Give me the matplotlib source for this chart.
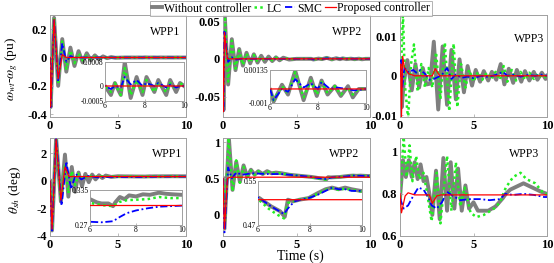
"""
Rotor speed deviation and shaft twist angle for three wind power plants,
compared across four control schemes. Six panels, four of them with a zoom inset.
"""
import matplotlib
matplotlib.use('Agg')
import matplotlib.pyplot as plt
from matplotlib.lines import Line2D

# ── Data ─────────────────────────────────────────────────────────────────────
SERIES_NAMES = ['Without controller', 'LC', 'SMC', 'Proposed controller']
WPP_NAMES = ['WPP1', 'WPP2', 'WPP3']

# WPP1, speed deviation (pu)
A_T = [0, 0.05, 0.3, 0.6, 0.9, 1.2, 1.5, 1.8, 2.1, 2.4, 2.7, 3.0, 3.3, 3.6, 3.9, 4.2, 4.5, 4.8,
       5.5, 6.0, 6.3, 6.5, 6.8, 7.0, 7.3, 7.6, 7.9, 8.1, 8.5, 8.7, 9.1, 9.3, 9.6, 9.8, 10.0]
A_NC = [0, -0.35, 0.28, -0.2, 0.13, -0.1, 0.07, -0.06, 0.045, -0.035, 0.03, -0.02, 0.015, -0.012,
        0.008, -0.005, 0.003, -0.002, 0, 0, -0.0003, 0.0001, -0.0003, 0.0008, -0.0004, 0.0003,
        -0.0003, 0.0003, -0.0002, 0.0002, -0.0003, 0.0002, -0.0002, 0.0001, 0]
A_LC = [0, -0.34, 0.27, -0.19, 0.12, -0.08, 0.05, -0.04, 0.03, -0.02, 0.015, -0.01, 0.006, -0.004,
        0.002, -0.001, 0.0005, 0, 0, 0, -0.0002, 0.0001, -0.0003, 0.0006, -0.0003, 0.0002,
        -0.0002, 0.0002, -0.0002, 0.0001, -0.0002, 0.0001, -0.0001, 0.0001, 0]
A_SMC = [0, -0.35, 0.27, -0.17, 0.1, -0.03, 0.01, 0, 0, 0, 0, 0, 0, 0, 0, 0, 0, 0, 0, 0,
         -0.0001, 0, -0.00005, 0.0003, 0.00005, 0.0002, 0, 0.0001, 0, 0.0001, -0.00005,
         0.00005, -0.00005, 0, 0]
A_T_PC = [0, 0.05, 0.3, 0.6, 0.9, 1.2, 10]
A_PC = [0, -0.35, 0.27, -0.15, 0.02, 0, 0]

# WPP2, speed deviation (pu)
B_T = [0, 0.03, 0.12, 0.35, 0.6, 0.85, 1.1, 1.35, 1.6, 1.85, 2.1, 2.35, 2.6, 2.85, 3.1, 3.35,
       3.6, 3.85, 4.1, 4.5, 5.0, 6.0, 6.15, 6.5, 6.75, 7.05, 7.4, 7.7, 7.95, 8.15, 8.4, 8.7,
       8.95, 9.25, 9.45, 9.7, 10]
B_NC = [0, -0.068, 0.058, -0.034, 0.026, -0.015, 0.013, -0.009, 0.008, -0.006, 0.006, -0.005,
        0.004, -0.004, 0.003, -0.003, 0.002, -0.002, 0.0015, -0.001, 0, 0, -0.0009, 0.0003,
        -0.0004, 0.0013, -0.0008, 0.0008, -0.0005, 0.0006, -0.0004, 0.0002, -0.0005, 0.0002,
        -0.0006, 0.0, 0]
B_LC = [0, -0.066, 0.06, -0.03, 0.024, -0.013, 0.011, -0.008, 0.007, -0.005, 0.005, -0.004,
        0.003, -0.003, 0.002, -0.002, 0.0015, -0.0015, 0.001, -0.0005, 0, 0, -0.0008, 0.0002,
        -0.0003, 0.0012, -0.0006, 0.0006, -0.0004, 0.0005, -0.0003, 0.0002, -0.0004, 0.0001,
        -0.0004, 0.0, 0]
B_T_SMC = [0, 0.03, 0.1, 0.35, 0.6, 0.9, 1.2, 6.0, 6.15, 6.5, 6.75, 7.05, 7.4, 7.7, 8.0, 8.15,
           8.5, 8.8, 9.2, 9.5, 10]
B_SMC = [0, -0.07, 0.036, -0.004, 0.002, -0.001, 0, 0, -0.0008, 0.0, -0.0002, 0.0007, 0.0001,
         0.0004, 0.0, 0.0005, 0.0, 0.0001, 0.0, -0.0001, 0]
B_T_PC = [0, 0.03, 0.1, 0.3, 10]
B_PC = [0, -0.07, 0.035, 0, 0]

# WPP3, speed deviation (pu)
C_T_NC = [0, 0.05, 0.12, 0.25, 0.5, 0.8, 1.05, 1.3, 1.55, 1.8, 2.05, 2.3, 2.6, 2.9, 3.2, 3.5,
          3.8, 4.05, 4.35, 4.6, 4.9, 5.15, 5.45, 5.7, 6.0, 6.25, 6.55, 6.85, 7.1, 7.4, 7.7,
          7.95, 8.25, 8.5, 8.8, 9.1, 9.35, 9.65, 9.9, 10]
C_NC = [0, 0.004, -0.008, -0.002, 0.004, -0.0037, 0.003, -0.003, 0.002, -0.0022, -0.002, 0.0087,
        -0.0086, 0.0075, -0.0074, 0.0066, -0.006, 0.0042, -0.0042, 0.0025, -0.0025, 0.0015,
        -0.0015, 0.0012, -0.0012, 0.001, -0.001, 0.003, -0.0022, 0.0018, -0.0018, 0.0015,
        -0.0015, 0.0012, -0.0012, 0.001, -0.001, 0.0008, -0.0008, 0]
C_T_LC = [0, 0.1, 0.2, 0.35, 0.55, 0.75, 0.95, 1.2, 1.45, 1.7, 1.95, 2.2, 2.45, 2.75, 3.05, 3.35,
          3.65, 3.9, 4.15, 4.45, 4.7, 5.0, 5.3, 5.6, 5.9, 6.2, 6.5, 6.8, 7.05, 7.3, 7.6, 7.9,
          8.2, 8.5, 8.8, 9.1, 9.4, 9.7, 10]
C_LC = [0, 0.005, 0.016, -0.003, -0.011, 0.003, 0.008, -0.004, 0.003, -0.003, 0.002, -0.003,
        0.006, -0.006, 0.0085, -0.009, 0.0082, -0.008, 0.003, -0.003, 0.0015, -0.0015, 0.001,
        -0.001, 0.0008, -0.0008, 0.001, -0.001, 0.0025, -0.0015, 0.0015, -0.0012, 0.001,
        -0.001, 0.0008, -0.0008, 0.0006, -0.0006, 0]
C_T_SMC = [0, 0.08, 0.15, 0.3, 0.6, 0.9, 1.1, 1.4, 1.7, 2.0, 2.3, 2.6, 2.9, 3.2, 3.5, 3.8, 4.2,
           4.6, 5.0, 5.5, 6.0, 6.5, 7.0, 7.3, 7.7, 8.2, 8.7, 9.2, 9.6, 10]
C_SMC = [0, 0.004, -0.003, 0.002, 0.0008, 0.0015, 0.0008, 0.0015, 0.0005, -0.001, -0.0008,
         -0.0003, 0.0005, 0.002, -0.0008, 0.0003, -0.0005, -0.0002, -0.0006, 0.0, -0.0003,
         0.0002, 0.001, 0.0, 0.0003, -0.0002, 0.0002, 0.0, 0.0003, 0.0]
C_T_PC = [0, 0.05, 0.1, 0.18, 0.3, 0.6, 1.0, 2.2, 2.4, 2.7, 3.0, 10]
C_PC = [0, 0.003, -0.0105, 0.005, 0.002, 0.0005, 0.0, 0.0, 0.0018, 0.0, 0.0, 0.0]

# WPP1, shaft twist angle (deg)
D_T_NC = [0, 0.15, 0.45, 0.8, 1.1, 1.35, 1.6, 1.85, 2.1, 2.35, 2.6, 2.85, 3.1, 3.35, 3.6, 3.85,
          4.1, 4.5, 5.0, 5.5, 6.0, 6.3, 6.5, 6.8, 7.0, 7.1, 7.3, 7.5, 7.7, 8.0, 8.3, 8.6, 9.0,
          9.3, 9.6, 10]
D_NC = [0, -3.6, 3.1, -1.5, 1.9, -1.15, 1.0, -0.8, 0.6, -0.4, 0.5, -0.1, 0.45, 0.1, 0.4, 0.2,
        0.38, 0.28, 0.33, 0.32, 0.318, 0.312, 0.31, 0.31, 0.305, 0.312, 0.322, 0.318, 0.325,
        0.323, 0.327, 0.326, 0.33, 0.328, 0.327, 0.326]
D_T_LC = [0, 0.15, 0.45, 0.8, 1.1, 1.35, 1.6, 1.85, 2.1, 2.4, 2.8, 3.2, 3.6, 4.0, 5.0, 6.0, 6.5,
          7.0, 7.3, 7.6, 8.0, 8.5, 9.0, 9.5, 10]
D_LC = [0, -3.5, 3.0, -1.4, 1.2, -0.9, 0.7, -0.3, 0.5, 0.1, 0.4, 0.25, 0.35, 0.3, 0.31, 0.311,
        0.307, 0.305, 0.313, 0.316, 0.317, 0.318, 0.322, 0.32, 0.32]
D_T_SMC = [0, 0.15, 0.45, 0.85, 1.2, 1.55, 1.9, 2.3, 2.8, 3.5, 4.5, 6.0, 6.5, 7.0, 7.3, 7.6, 8.0,
           8.5, 9.0, 9.5, 10]
D_SMC = [0, -3.6, 3.1, -1.8, 1.4, -0.6, 0.5, 0.1, 0.35, 0.25, 0.28, 0.276, 0.275, 0.277, 0.285,
         0.292, 0.297, 0.301, 0.304, 0.305, 0.306]
D_T_PC = [0, 0.15, 0.45, 0.8, 1.1, 1.4, 10]
D_PC = [0, -3.5, 3.0, -1.4, 1.0, 0.307, 0.307]

# WPP2, shaft twist angle (deg)
E_T_NC = [0, 0.1, 0.4, 0.65, 0.9, 1.15, 1.4, 1.65, 1.9, 2.15, 2.4, 2.7, 3.0, 3.3, 3.6, 4.0, 4.5,
          5.0, 5.5, 6.05, 6.5, 6.85, 7.03, 7.15, 7.35, 7.6, 7.95, 8.3, 8.6, 8.85, 9.1, 9.35,
          9.6, 9.95, 10]
E_NC = [0.5, -0.2, 1.06, 0.34, 0.73, 0.45, 0.68, 0.52, 0.62, 0.55, 0.6, 0.56, 0.6, 0.57, 0.58,
        0.57, 0.55, 0.54, 0.53, 0.519, 0.504, 0.495, 0.485, 0.516, 0.513, 0.516, 0.519, 0.528,
        0.535, 0.538, 0.535, 0.538, 0.535, 0.532, 0.532]
E_T_LC = [0, 0.1, 0.38, 0.65, 0.9, 1.15, 1.4, 1.65, 1.9, 2.15, 2.4, 2.7, 3.0, 3.3, 3.6, 4.0,
          4.5, 5.0, 5.5, 6.05, 6.4, 6.7, 7.0, 7.15, 7.35, 7.6, 7.95, 8.3, 8.6, 8.85, 9.1, 9.35,
          9.6, 9.95, 10]
E_LC = [0.5, -0.2, 1.06, 0.32, 0.75, 0.44, 0.66, 0.52, 0.61, 0.55, 0.6, 0.56, 0.6, 0.57, 0.58,
        0.57, 0.55, 0.54, 0.53, 0.515, 0.5, 0.49, 0.482, 0.51, 0.513, 0.516, 0.519, 0.527,
        0.534, 0.537, 0.534, 0.536, 0.534, 0.531, 0.531]
E_T_SMC = [0, 0.1, 0.35, 0.6, 0.9, 1.3, 2.0, 3.0, 4.0, 5.0, 6.05, 6.5, 7.0, 7.15, 7.4, 7.65,
           7.95, 8.3, 8.6, 8.85, 9.1, 9.35, 9.6, 9.95, 10]
E_SMC = [0.5, -0.25, 0.65, 0.5, 0.58, 0.55, 0.57, 0.56, 0.56, 0.54, 0.519, 0.504, 0.49, 0.5,
         0.513, 0.516, 0.519, 0.525, 0.532, 0.538, 0.535, 0.535, 0.532, 0.532, 0.532]
E_T_PC = [0, 0.1, 0.3, 0.5, 10]
E_PC = [0.5, -0.2, 0.5, 0.516, 0.516]

# WPP3, shaft twist angle (deg)
F_T_NC = [0, 0.2, 0.4, 0.6, 0.8, 1.0, 1.2, 1.4, 1.6, 1.8, 2.0, 2.2, 2.45, 2.7, 2.95, 3.2, 3.45,
          3.7, 3.95, 4.2, 4.45, 4.7, 5.0, 5.3, 5.6, 6.0, 6.5, 7.0, 7.2, 7.5, 7.8, 8.1, 8.4,
          8.7, 9.0, 9.3, 9.6, 10]
F_NC = [0.78, 0.96, 0.88, 0.96, 0.88, 0.95, 0.87, 0.94, 0.86, 0.88, 0.8, 0.7, 0.91, 0.68, 0.97,
        0.72, 0.95, 0.73, 0.92, 0.72, 0.84, 0.73, 0.76, 0.72, 0.72, 0.72, 0.74, 0.78, 0.8,
        0.82, 0.83, 0.84, 0.85, 0.84, 0.83, 0.82, 0.81, 0.8]
F_T_LC = [0, 0.25, 0.45, 0.65, 0.85, 1.1, 1.3, 1.6, 1.85, 2.15, 2.5, 2.75, 3.2, 3.5, 3.8, 4.1,
          4.4, 4.8, 5.2, 5.7, 6.4, 6.8, 7.2, 7.7, 8.2, 8.6, 9.2, 9.8, 10]
F_LC = [0.78, 1.07, 0.88, 1.03, 0.86, 0.98, 0.87, 0.9, 0.8, 0.67, 0.9, 0.66, 0.98, 0.72, 0.95,
        0.74, 0.83, 0.71, 0.69, 0.7, 0.73, 0.76, 0.83, 0.88, 0.9, 0.87, 0.85, 0.8, 0.8]
F_T_SMC = [0, 0.25, 0.55, 0.9, 1.25, 1.6, 1.95, 2.15, 2.5, 2.85, 3.2, 3.6, 4.1, 4.8, 5.45, 6.1,
           6.8, 7.15, 7.7, 8.4, 9.1, 9.8, 10]
F_SMC = [0.78, 0.73, 0.745, 0.79, 0.83, 0.82, 0.78, 0.745, 0.73, 0.76, 0.81, 0.79, 0.77, 0.775,
         0.775, 0.77, 0.775, 0.8, 0.795, 0.8, 0.795, 0.785, 0.785]
F_T_PC = [0, 0.1, 0.35, 0.55, 1.0, 2.0, 2.2, 2.5, 2.8, 10]
F_PC = [0.8, 0.71, 0.79, 0.805, 0.795, 0.795, 0.755, 0.79, 0.795, 0.795]

# ── Styling ───────────────────────────────────────────────────────────────────
plt.rcParams['font.family'] = ['Liberation Serif', 'DejaVu Serif']
plt.rcParams['mathtext.fontset'] = 'stix'
plt.rcParams['axes.unicode_minus'] = False

W, H = 554, 263
SPINE = '#a0a0a0'
STYLES = [
    dict(color='#7f7f7f', lw=2.8, ls='-', zorder=1),
    dict(color='#22ee22', lw=1.8, ls=(0, (1, 1.3)), zorder=2),
    dict(color='#0000ff', lw=1.3, ls=(0, (4, 1.5, 1, 1.5)), zorder=3),
    dict(color='#ff0000', lw=0.9, ls='-', zorder=4),
]


def px_rect(l, t, r, b):
    """pixel box (left, top, right, bottom) -> figure fraction rect"""
    return [l / W, 1 - b / H, (r - l) / W, (b - t) / H]


def style_axes(ax, size, weight):
    for s in ax.spines.values():
        s.set_color(SPINE)
        s.set_linewidth(0.7)
    ax.tick_params(direction='in', length=2, width=0.5, color=SPINE, pad=2)
    for lab in ax.get_xticklabels() + ax.get_yticklabels():
        lab.set_fontsize(size)
        lab.set_fontweight(weight)


def draw(ax, series):
    for (t, v), st in zip(series, STYLES):
        ax.plot(t, v, **st)


# ── Panels ────────────────────────────────────────────────────────────────────
panels = [
    dict(rect=(50, 15, 186, 117), ylim=(-0.42, 0.3), yticks=[-0.4, -0.2, 0, 0.2],
         series=[(A_T, A_NC), (A_T, A_LC), (A_T, A_SMC), (A_T_PC, A_PC)],
         name=WPP_NAMES[0], name_xy=(0.96, 0.83),
         inset=dict(rect=(105, 62, 184, 101), ylim=(-0.0005, 0.0008),
                    yticks=[-0.0005, 0, 0.0008])),
    dict(rect=(223, 15, 370, 117), ylim=(-0.077, 0.058), yticks=[-0.05, 0, 0.05],
         series=[(B_T, B_NC), (B_T, B_LC), (B_T_SMC, B_SMC), (B_T_PC, B_PC)],
         name=WPP_NAMES[1], name_xy=(0.95, 0.83),
         inset=dict(rect=(270, 70, 366, 103), ylim=(-0.001, 0.00135),
                    yticks=[-0.001, 0.00135])),
    dict(rect=(400, 15, 547, 117), ylim=(-0.0105, 0.0155), yticks=[-0.01, 0, 0.01],
         series=[(C_T_NC, C_NC), (C_T_LC, C_LC), (C_T_SMC, C_SMC), (C_T_PC, C_PC)],
         name=WPP_NAMES[2], name_xy=(0.98, 0.76), inset=None),
    dict(rect=(50, 138, 186, 236), ylim=(-4, 3.1), yticks=[-4, -2, 0, 2],
         series=[(D_T_NC, D_NC), (D_T_LC, D_LC), (D_T_SMC, D_SMC), (D_T_PC, D_PC)],
         name=WPP_NAMES[0], name_xy=(0.97, 0.84),
         inset=dict(rect=(90, 190, 182, 225), ylim=(0.27, 0.335),
                    yticks=[0.27, 0.335])),
    dict(rect=(223, 138, 370, 236), ylim=(-0.3, 1.06), yticks=[0, 0.5, 1],
         series=[(E_T_NC, E_NC), (E_T_LC, E_LC), (E_T_SMC, E_SMC), (E_T_PC, E_PC)],
         name=WPP_NAMES[1], name_xy=(0.93, 0.84),
         inset=dict(rect=(258, 181, 362, 225), ylim=(0.47, 0.55),
                    yticks=[0.47, 0.55])),
    dict(rect=(400, 138, 547, 236), ylim=(0.6, 1.065), yticks=[0.6, 0.8, 1],
         series=[(F_T_NC, F_NC), (F_T_LC, F_LC), (F_T_SMC, F_SMC), (F_T_PC, F_PC)],
         name=WPP_NAMES[2], name_xy=(0.95, 0.84), inset=None),
]

fig = plt.figure(figsize=(W / 100, H / 100), dpi=100)

for p in panels:
    ax = fig.add_axes(px_rect(*p['rect']))
    draw(ax, p['series'])
    ax.set_xlim(0, 10)
    ax.set_ylim(*p['ylim'])
    ax.set_xticks([0, 5, 10], ['0', '5', '10'])
    ax.set_yticks(p['yticks'], [f'{v:g}' for v in p['yticks']])
    style_axes(ax, 9, 'bold')
    ax.text(*p['name_xy'], p['name'], transform=ax.transAxes, ha='right', va='center',
            fontsize=8.5)

    ins = p['inset']
    if ins is not None:
        iax = fig.add_axes(px_rect(*ins['rect']))
        draw(iax, p['series'])
        iax.set_xlim(6, 10)
        iax.set_ylim(*ins['ylim'])
        iax.set_xticks([6, 8, 10], ['6', '8', '10'])
        iax.set_yticks(ins['yticks'], [f'{v:g}' for v in ins['yticks']])
        style_axes(iax, 5.5, 'normal')
        iax.tick_params(length=1.5, pad=1)

# axis labels
fig.text(12 / W, 1 - 69 / H, r'$\omega_{wt}$-$\omega_g$ (pu)', rotation=90,
         ha='center', va='center', fontsize=9.5)
fig.text(15 / W, 1 - 190 / H, r'$\theta_{sh}$ (deg)', rotation=90,
         ha='center', va='center', fontsize=9.5)
fig.text(300 / W, 1 - 256.5 / H, 'Time (s)', ha='center', va='center', fontsize=10)

# legend across the top
handles = [Line2D([], [], color=st['color'], lw=st['lw'], ls=st['ls']) for st in STYLES]
leg = fig.legend(handles, SERIES_NAMES, loc='center', ncol=4,
                 bbox_to_anchor=(291 / W, 1 - 8.5 / H), fontsize=8.5,
                 handlelength=0.9, handletextpad=0.15, columnspacing=0.25,
                 borderpad=0.15, borderaxespad=0, frameon=True, fancybox=False)
leg.get_frame().set_edgecolor(SPINE)
leg.get_frame().set_linewidth(0.7)

fig.savefig('out.png', dpi=100)
